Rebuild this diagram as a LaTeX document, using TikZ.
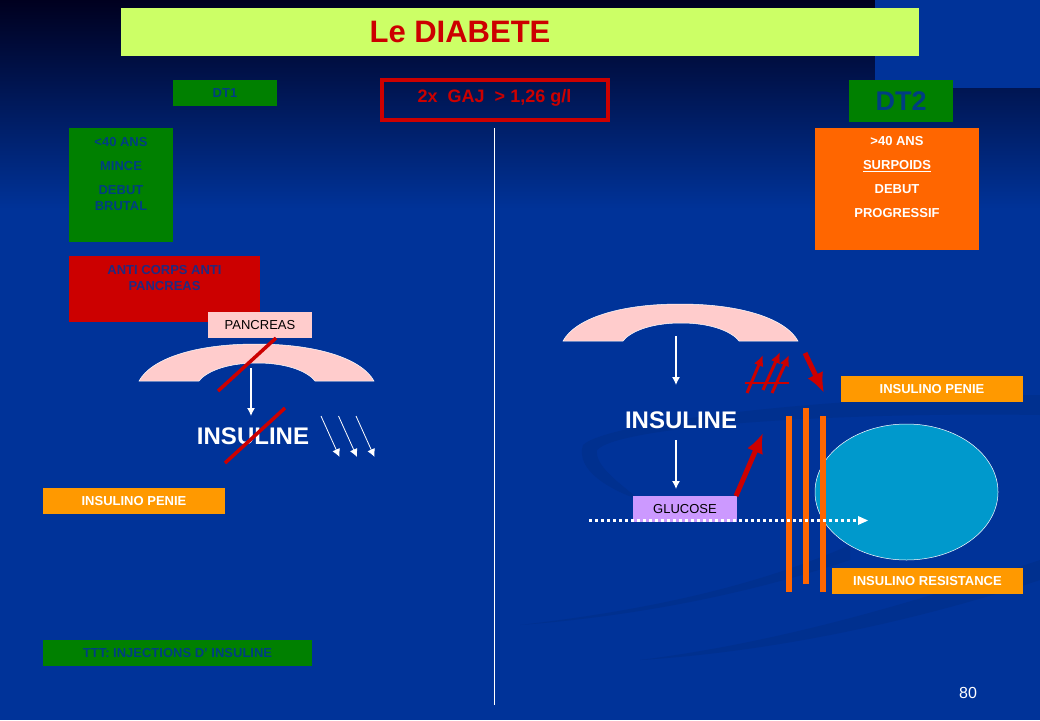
\documentclass[tikz,border=0pt]{standalone}
\usepackage{fontspec}
\setmainfont{Liberation Sans}
\usetikzlibrary{shapes.geometric, arrows.meta, positioning}
\definecolor{slideblue}{HTML}{003399}
\definecolor{slidedark}{HTML}{00001F}
\definecolor{swoosh}{HTML}{00308F}
\definecolor{titlegreen}{HTML}{CCFF66}
\definecolor{boxgreen}{HTML}{008000}
\definecolor{boxred}{HTML}{CC0000}
\definecolor{boxorange}{HTML}{FF6600}
\definecolor{labelorange}{HTML}{FF9900}
\definecolor{glandpink}{HTML}{FFCCCC}
\definecolor{boxlilac}{HTML}{CC99FF}
\definecolor{cellblue}{HTML}{0099CC}
\tikzset{
    block/.style={rectangle, inner sep=0pt, outer sep=0pt, align=center, font=\fontsize{13}{16}\selectfont\bfseries},
    greenblock/.style={block, fill=boxgreen, text=slideblue!85!boxgreen},
    labelblock/.style={block, fill=labelorange, text=white, minimum height=26pt},
    pinkblock/.style={block, text=black, font=\fontsize{13}{16}\selectfont, minimum width=104pt, minimum height=26pt},
    membrane/.style={rectangle, fill=boxorange, inner sep=0pt, outer sep=0pt, minimum width=6pt, minimum height=176pt},
    hormone/.style={font=\fontsize{24}{28}\selectfont\bfseries, text=white},
    whitearrow/.style={white, line width=1.2pt, -{Latex[length=8pt,width=8pt]}},
    redarrow/.style={boxred, line width=5pt, -{Latex[length=20pt,width=17pt]}},
    thinred/.style={boxred, line width=3pt, -{Latex[length=11pt,width=10pt]}},
    cross/.style={boxred, line width=3.5pt},
    pics/gland/.style={code={
        \fill[glandpink, draw=white, line width=0.5pt] (0,0) .. controls (12,-22) and (55,-37) .. (117,-37) .. controls (179,-37) and (223,-22) .. (235,0) -- (176,0) .. controls (170,-8) and (151,-18) .. (118,-18) .. controls (85,-18) and (66,-8) .. (60,0) -- cycle;
    }},
}

\begin{document}
\begin{tikzpicture}[x=1pt, y=-1pt]

    % Background
    \useasboundingbox (0,0) rectangle (1040,720);
    \fill[slideblue] (0,0) rectangle (1040,720);
    \shade[top color=slidedark, bottom color=slideblue] (0,0) rectangle (1040,210);
    \fill[slideblue] (875,0) rectangle (1040,88);
    \fill[swoosh] (1040,395) .. controls (850,395) and (610,420) .. (583,445) .. controls (575,470) and (610,490) .. (640,500) .. controls (615,480) and (595,465) .. (597,450) .. controls (620,425) and (850,412) .. (1040,415) -- cycle;
    \fill[swoosh] (520,625) .. controls (650,610) and (760,585) .. (850,545) -- (850,560) .. controls (760,590) and (650,615) .. (520,625) -- cycle;
    \fill[swoosh] (640,660) .. controls (800,640) and (950,590) .. (1040,560) -- (1040,580) .. controls (950,610) and (800,650) .. (640,660) -- cycle;

    % Nodes
    \node[block, fill=titlegreen, text=boxred, minimum width=798pt, minimum height=48pt, font=\fontsize{31}{36}\selectfont\bfseries] (title) at (520,32) {Le DIABETE\hspace*{120pt}};
    \node[block, draw=boxred, line width=4pt, text=boxred, minimum width=226pt, minimum height=40pt, font=\fontsize{18}{20}\selectfont\bfseries] (criterion) at (494.5,100) {2x~~GAJ~~> 1,26 g/l\\[-12pt]};
    \node[greenblock, minimum width=104pt, minimum height=26pt] (dtone) at (225,93) {DT1};
    \node[greenblock, minimum width=104pt, minimum height=42pt, font=\fontsize{27}{30}\selectfont\bfseries] (dttwo) at (901,101) {DT2};
    \node[greenblock, minimum width=104pt, minimum height=114pt] (profileone) at (121,185) {<40 ANS\\[8pt]MINCE\\[8pt]DEBUT\\BRUTAL\\[6pt]~};
    \node[block, fill=boxred, text=slideblue!85!boxred, minimum width=191pt, minimum height=66pt] (antibody) at (164.5,289) {ANTI CORPS ANTI\\PANCREAS\\[6pt]~};
    \node[pinkblock, fill=glandpink] (pancreas) at (260,325) {PANCREAS};
    \node[block, fill=boxorange, text=white, minimum width=164pt, minimum height=122pt] (profiletwo) at (897,189) {>40 ANS\\[8pt]\underline{SURPOIDS}\\[8pt]DEBUT\\[8pt]PROGRESSIF\\[8pt]~};
    \node[labelblock, minimum width=182pt] (penieone) at (134,501) {INSULINO PENIE};
    \node[greenblock, minimum width=269pt, minimum height=26pt] (treatment) at (177.5,653) {TTT: INJECTIONS D' INSULINE};
    \node[labelblock, minimum width=182pt] (penietwo) at (932,389) {INSULINO PENIE};
    \node[labelblock, minimum width=191pt] (resistance) at (927.5,581) {INSULINO RESISTANCE};
    \pic at (139,381) {gland};
    \pic at (563,341) {gland};
    \node[hormone] (insulineone) at (253,436) {INSULINE};
    \node[hormone] (insulinetwo) at (681,420) {INSULINE};
    \node[ellipse, fill=cellblue, draw=white, line width=0.5pt, inner sep=0pt, minimum width=183pt, minimum height=136pt] (cell) at (906.5,492) {};
    \node[membrane] (wallone) at (789,504) {};
    \node[membrane] (walltwo) at (806,496) {};
    \node[membrane] (wallthree) at (823,504) {};
    \node[pinkblock, fill=boxlilac] (glucose) at (685,509) {GLUCOSE};
    \node[text=white, font=\fontsize{16}{18}\selectfont] (pagenum) at (968,693) {80};

    % Free ends
    \coordinate (axistop) at (494,128);
    \coordinate (axisbottom) at (494,705);
    \coordinate (secretone) at (251,368);
    \coordinate (secretoneend) at (251,416);
    \coordinate (secrettwo) at (676,336);
    \coordinate (secrettwoend) at (676,385);
    \coordinate (actionstart) at (676,440);
    \coordinate (actionend) at (676,489);
    \coordinate (flowstart) at (589,520.5);
    \coordinate (flowend) at (868,520.5);

    % Arrows
    \draw[white, line width=1pt] (axistop) -- (axisbottom);
    \draw[whitearrow] (secretone) -- (secretoneend);
    \draw[whitearrow] (secrettwo) -- (secrettwoend);
    \draw[whitearrow] (actionstart) -- (actionend);
    \foreach \i in {0,1,2}{
        \draw[whitearrow, line width=0.8pt] (321+17.5*\i,416) -- (339.5+17.5*\i,457);
    }
    \draw[cross] (218,391) -- ([xshift=16pt]pancreas.south);
    \draw[cross] (225,463) -- (285,408);
    \draw[white, line width=3pt, dash pattern=on 3pt off 3pt] (flowstart) -- ([xshift=-9pt]flowend);
    \fill[white] (flowend) -- ++(-10,-4.5) -- ++(0,9) -- cycle;
    \draw[redarrow] ([xshift=-1pt]glucose.north east) -- (763,433);
    \draw[redarrow] (805,353) -- (824,393);
    \draw[thinred] (747,393) -- (763,355);
    \draw[thinred] (763,390) -- (780,352);
    \draw[thinred] (772,393) -- (789,355);
    \draw[cross, line width=2.5pt] (745,383) -- (789,383);

\end{tikzpicture}
\end{document}
